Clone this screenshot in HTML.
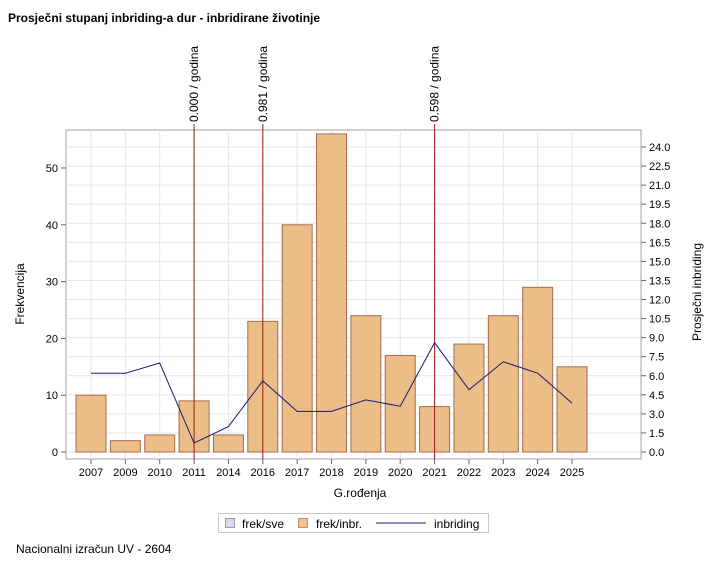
<!DOCTYPE html>
<html><head><meta charset="utf-8"><style>
body{margin:0;background:#fff;font-family:"Liberation Sans",Arial,sans-serif}
svg text{font-family:"Liberation Sans",Arial,sans-serif}
</style></head><body>
<svg id="c" width="718" height="567" xmlns="http://www.w3.org/2000/svg">
<text x="8" y="22" font-size="12" font-weight="bold">Prosječni stupanj inbriding-a dur - inbridirane životinje</text>
<rect x="66" y="130" width="575" height="329" fill="#fff" stroke="#a0a0a0"/>
<g id="grid"></g><g id="bars"></g><g id="refs"></g><g id="line"></g><g id="axes"></g>
<text x="360" y="497" font-size="12" text-anchor="middle">G.rođenja</text>
<text transform="translate(24,294) rotate(-90)" font-size="12" text-anchor="middle">Frekvencija</text>
<text transform="translate(701,292) rotate(-90)" font-size="12" text-anchor="middle">Prosječni inbriding</text>
<g>
<rect x="218.5" y="513.5" width="270" height="19" fill="#fff" stroke="#c8c8c8"/>
<g><rect x="225.5" y="518.5" width="9" height="9" fill="#dcdcdc" stroke="#8a9ac0"/><text x="242" y="528" font-size="12">frek/sve</text></g>
<g><rect x="298.5" y="518.5" width="9" height="9" fill="#f5c48c" stroke="#c89070"/><text x="316" y="528" font-size="12">frek/inbr.</text></g>
<g><line x1="376" y1="523" x2="426" y2="523" stroke="#1a1a6e" stroke-width="1"/><text x="434" y="528" font-size="12">inbriding</text></g>
</g>
<text x="16" y="553" font-size="12">Nacionalni izračun UV - 2604</text>
</svg>
<script>
const categories=["2007","2009","2010","2011","2014","2016","2017","2018","2019","2020","2021","2022","2023","2024","2025"];
const freqValues=[10,2,3,9,3,23,40,56,24,17,8,19,24,29,15];
const inbrValues=[6.2,6.2,7.0,0.7,2.0,5.6,3.2,3.2,4.1,3.6,8.6,4.9,7.1,6.2,3.85];
const leftTicks=[0,10,20,30,40,50];
const rightTicks=["0.0","1.5","3.0","4.5","6.0","7.5","9.0","10.5","12.0","13.5","15.0","16.5","18.0","19.5","21.0","22.5","24.0"];
const refCats=["2011","2016","2021"];
const refLabels=["0.000 / godina","0.981 / godina","0.598 / godina"];
const NS="http://www.w3.org/2000/svg";
const xS=i=>91+i*34.36;
const yL=v=>452-v*5.68;
const yR=v=>452-v*(305/24);
function mk(t,a,p){const e=document.createElementNS(NS,t);for(const k in a)e.setAttribute(k,a[k]);document.getElementById(p).appendChild(e);return e;}
rightTicks.forEach(t=>{const y=yR(parseFloat(t));
const g=mk('line',{x1:66,x2:641,y1:y,y2:y,stroke:'#e6e6e6'},'grid');


const k=mk('line',{x1:641,x2:646,y1:y,y2:y,stroke:'#666'},'axes');


const l=mk('text',{x:649,y:y+4,'font-size':11},'axes');l.textContent=t;

});
leftTicks.forEach(t=>{const y=yL(t);
const k=mk('line',{x1:61,x2:66,y1:y,y2:y,stroke:'#666'},'axes');


const l=mk('text',{x:58,y:y+4,'font-size':11,'text-anchor':'end'},'axes');l.textContent=t;

});
categories.forEach((c,i)=>{const x=xS(i);
const g=mk('line',{x1:x,x2:x,y1:130,y2:459,stroke:'#e6e6e6'},'grid');


const b=mk('rect',{x:x-15,y:yL(freqValues[i]),width:30,height:452-yL(freqValues[i]),fill:'#ebbd87',stroke:'#a86a50'},'bars');


const k=mk('line',{x1:x,x2:x,y1:459,y2:464,stroke:'#666'},'axes');


const l=mk('text',{x:x,y:476,'font-size':11,'text-anchor':'middle'},'axes');l.textContent=c;

});
refCats.forEach((c,j)=>{const x=xS(categories.indexOf(c));
const r=mk('line',{x1:x,x2:x,y1:124,y2:459,stroke:'#a01818'},'refs');


const t=mk('text',{transform:`translate(${x+4},122) rotate(-90)`,'font-size':12},'refs');t.textContent=refLabels[j];

});
const pts=inbrValues.map((v,i)=>xS(i)+','+yR(v)).join(' ');
const pl=mk('polyline',{points:pts,fill:'none',stroke:'#1a1a6e','stroke-width':1},'line');


</script>
</body></html>
